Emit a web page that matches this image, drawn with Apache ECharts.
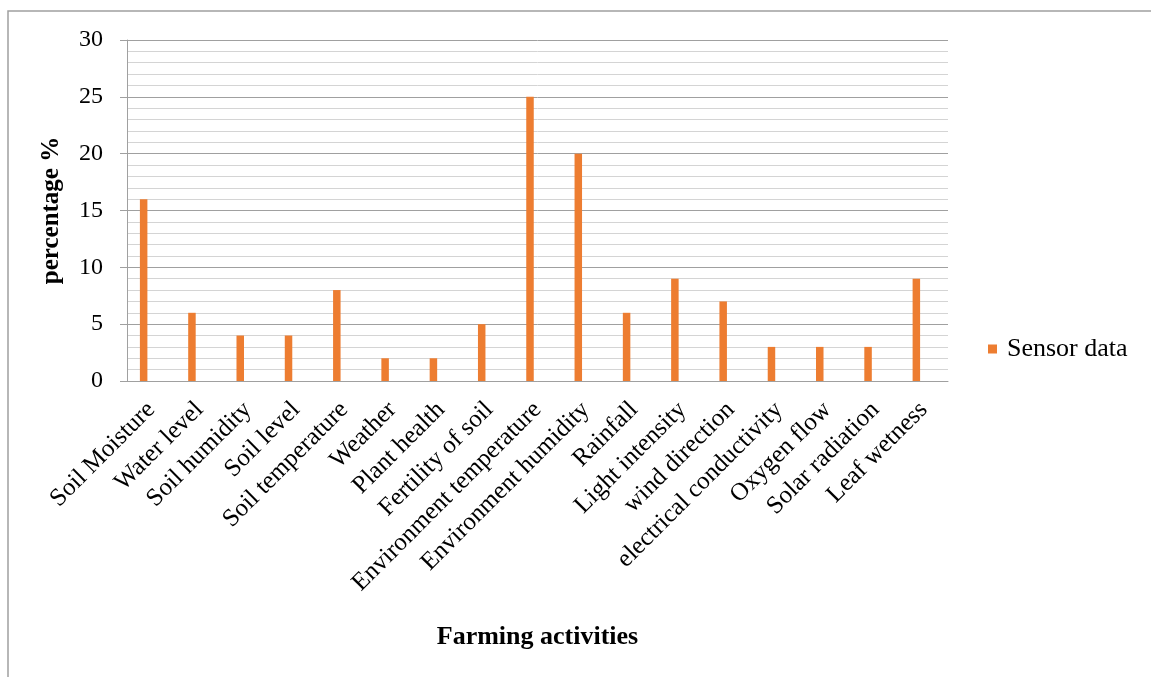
<!DOCTYPE html>
<html>
<head>
<meta charset="utf-8">
<script src="https://cdn.jsdelivr.net/npm/echarts@6/dist/echarts.min.js"></script>
<style>html,body{margin:0;padding:0;background:#fff;}#c{width:1151px;height:677px;}</style>
</head>
<body>
<div id="c"></div>
<script>
const categories = ["Soil Moisture","Water level","Soil humidity","Soil level","Soil temperature","Weather","Plant health","Fertility of soil","Environment temperature","Environment humidity","Rainfall","Light intensity","wind direction","electrical conductivity","Oxygen flow","Solar radiation","Leaf wetness"];
const sensorData = [16,6,4,4,8,2,2,5,25,20,6,9,7,3,3,3,9];
const yTicks = [0,5,10,15,20,25,30];

const chart = echarts.init(document.getElementById('c'));
const serif = '"Liberation Serif","Times New Roman",serif';
chart.setOption({
  animation: false,
  backgroundColor: '#fff',
  graphic: [{
    type: 'rect',
    shape: {x: 8, y: 11, width: 1200, height: 700},
    style: {fill: 'none', stroke: '#a0a0a0', lineWidth: 1.5},
    silent: true
  }],
  grid: {left: 127, right: 203, top: 40, bottom: 296, containLabel: false},
  legend: {
    data: ['Sensor data'],
    left: 983, top: 331,
    itemWidth: 9, itemHeight: 9, icon: 'rect',
    textStyle: {fontFamily: serif, fontSize: 26, color: '#000', padding: [0, 0, 0, 5]}
  },
  xAxis: {
    type: 'category',
    data: categories,
    axisLine: {lineStyle: {color: '#a0a0a0', width: 1}},
    axisTick: {show: false},
    axisLabel: {rotate: 45, interval: 0, fontFamily: serif, fontSize: 25, color: '#000', margin: 25},
    name: 'Farming activities',
    nameLocation: 'middle',
    nameGap: 243,
    nameTextStyle: {fontFamily: serif, fontSize: 26, fontWeight: 'bold', color: '#000'}
  },
  yAxis: {
    type: 'value',
    min: yTicks[0], max: yTicks[yTicks.length-1], interval: 5,
    axisLine: {show: true, lineStyle: {color: '#a0a0a0', width: 1}},
    axisTick: {show: true, length: 7, lineStyle: {color: '#a0a0a0'}},
    axisLabel: {fontFamily: serif, fontSize: 24, color: '#000', margin: 24},
    splitLine: {lineStyle: {color: '#a0a0a0', width: 1}},
    minorTick: {show: false, splitNumber: 5},
    minorSplitLine: {show: true, lineStyle: {color: '#d4d4d4', width: 1}},
    name: 'percentage %',
    nameLocation: 'middle',
    nameGap: 63,
    nameRotate: 90,
    nameTextStyle: {fontFamily: serif, fontSize: 25, fontWeight: 'bold', color: '#000'}
  },
  series: [
    {name: 'Sensor data', type: 'bar', data: sensorData, barWidth: 7.5, barGap: '100%', itemStyle: {color: '#ED7D31'}},
    {name: 'spacer', type: 'bar', data: sensorData.map(() => null), barWidth: 7.5, itemStyle: {color: 'transparent'}}
  ]
});
</script>
</body>
</html>
